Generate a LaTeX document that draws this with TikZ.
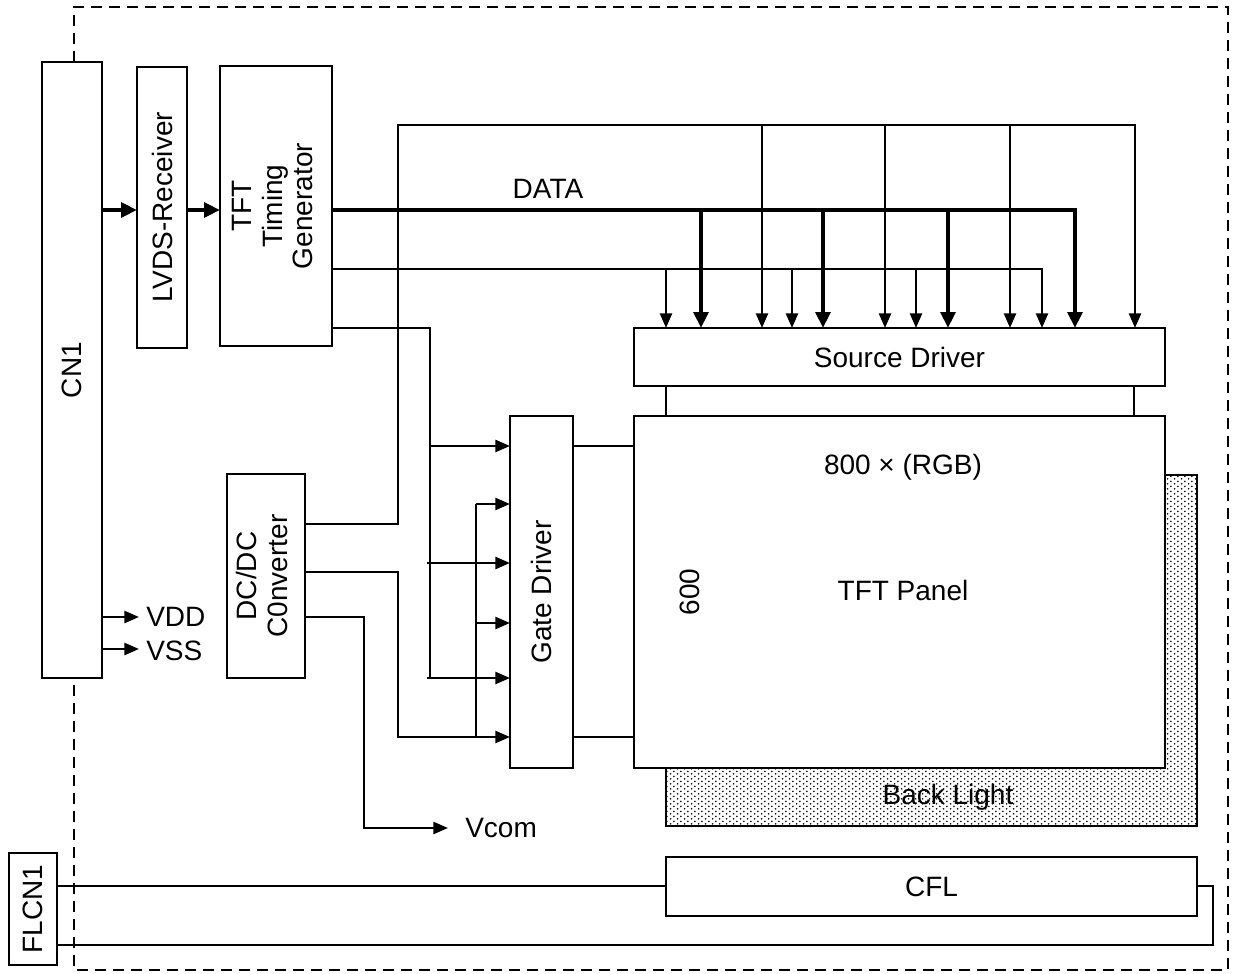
\documentclass[tikz,border=0pt]{standalone}
\usepackage{fontspec}
\setmainfont{Liberation Sans}
\usetikzlibrary{arrows.meta,patterns}
\pgfdeclarepatternformonly{bldots}{\pgfpointorigin}{\pgfpoint{5.4pt}{4pt}}{\pgfpoint{5.4pt}{4pt}}{%
  \pgfpathcircle{\pgfpoint{1.35pt}{1pt}}{0.75pt}%
  \pgfpathcircle{\pgfpoint{4.05pt}{3pt}}{0.75pt}%
  \pgfusepath{fill}%
}
\begin{document}
\begin{tikzpicture}[x=0.75pt,y=-0.75pt,
  font=\fontsize{21}{23}\selectfont,
  box/.style={draw,line width=1.9pt,fill=white,inner sep=0pt,outer sep=0pt},
  wire/.style={line width=1.9pt},
  bus/.style={line width=3.5pt},
  arr/.style={wire,-{Triangle[length=11pt,width=9pt]}},
  busarr/.style={bus,-{Triangle[length=12pt,width=11pt]}},
  lbl/.style={inner sep=0pt},
  border/.style={line width=2pt,dash pattern=on 8.5pt off 5pt}
]
\useasboundingbox (0,0) rectangle (1242,974);

% boxes
\node[box,minimum width=45pt,minimum height=462pt] (cn1) at (72,370) {\rotatebox{90}{CN1}};
\node[box,minimum width=37.5pt,minimum height=210.75pt] (lvds) at (162,207.5) {\rotatebox{90}{LVDS-Receiver}};
\node[box,minimum width=84pt,minimum height=210pt] (tft) at (276,206) {\rotatebox{90}{\begin{tabular}{@{}c@{}}TFT\\Timing\\Generator\end{tabular}}};
\node[box,minimum width=58.5pt,minimum height=153pt] (dcdc) at (266,576) {\rotatebox{90}{\begin{tabular}{@{}c@{}}DC/DC\\C0nverter\end{tabular}}};
\node[box,minimum width=47.25pt,minimum height=264pt] (gate) at (541.5,592) {\rotatebox{90}{Gate Driver}};
\node[box,pattern=bldots,pattern color=black,minimum width=398.25pt,minimum height=263.25pt] (bl) at (931.5,650.5) {};
\node[box,minimum width=398.25pt,minimum height=264pt] (panel) at (899.5,592) {};
\node[box,minimum width=398.25pt,minimum height=43.5pt] (src) at (899.5,357) {Source Driver};
\node[box,minimum width=398.25pt,minimum height=44.25pt] (cfl) at (931.5,886.5) {CFL};
\node[box,minimum width=36pt,minimum height=84pt] (flcn) at (33,909) {\rotatebox{90}{FLCN1}};

% labels
\node[lbl] (bltext) at (948,797) {Back Light};
\node[lbl] (res) at (903,467) {800 × (RGB)};
\node[lbl] (ptext) at (903,590) {TFT Panel};
\node[lbl,rotate=90] (rows) at (690,592) {600};
\node[lbl] (data) at (548,189) {DATA};
\node[lbl,anchor=west] (vdd) at (146,617) {VDD};
\node[lbl,anchor=west] (vss) at (146,651) {VSS};
\node[lbl,anchor=west] (vcom) at (465,828) {Vcom};
\coordinate (vcomtip) at (448,828);

% dashed module border
\draw[border] (cn1.north -| 74,0) -- (74,7) -- (1228,7) -- (1228,970) -- (74,970) -- (cn1.south -| 74,0);

% input chain
\draw[busarr] (cn1.east |- 0,210) -- (lvds.west |- 0,210);
\draw[busarr] (lvds.east |- 0,210) -- (tft.west |- 0,210);

% DATA bus
\draw[busarr] (tft.east |- 0,210) -- (1075,210) -- (src.north -| 1075,0);
\foreach \x in {701,823,948}
  \draw[busarr] (\x,210) -- (src.north -| \x,0);

% line y=269
\draw[arr] (tft.east |- 0,269) -- (1042,269) -- (src.north -| 1042,0);
\foreach \x in {666,792,916}
  \draw[arr] (\x,269) -- (src.north -| \x,0);

% power line from DC/DC up to top bus
\draw[arr] (dcdc.east |- 0,524) -- (398,524) -- (398,125) -- (1135,125) -- (src.north -| 1135,0);
\foreach \x in {762,885,1010}
  \draw[arr] (\x,125) -- (src.north -| \x,0);

% timing to gate driver
\draw[wire] (tft.east |- 0,328) -- (430,328) -- (430,678);
\draw[arr] (430,446) -- (gate.west |- 0,446);
\draw[arr] (427,563) -- (gate.west |- 0,563);
\draw[arr] (427,678) -- (gate.west |- 0,678);

% DC/DC to gate driver
\draw[arr] (dcdc.east |- 0,572) -- (398,572) -- (398,737) -- (gate.west |- 0,737);
\draw[wire] (476,737) -- (476,504);
\draw[arr] (476,504) -- (gate.west |- 0,504);
\draw[arr] (476,623) -- (gate.west |- 0,623);

% Vcom
\draw[arr] (dcdc.east |- 0,617) -- (364,617) -- (364,828) -- (vcomtip);

% VDD / VSS
\draw[arr] (cn1.east |- 0,617) -- (139,617);
\draw[arr] (cn1.east |- 0,649) -- (139,649);

% gate driver to panel
\draw[wire] (gate.east |- 0,446) -- (panel.west |- 0,446);
\draw[wire] (gate.east |- 0,737) -- (panel.west |- 0,737);

% source driver to panel
\draw[wire] (src.south -| 666,0) -- (panel.north -| 666,0);
\draw[wire] (src.south -| 1134,0) -- (panel.north -| 1134,0);

% FLCN1 to CFL
\draw[wire] (flcn.east |- 0,886) -- (cfl.west |- 0,886);
\draw[wire] (cfl.east |- 0,886) -- (1213,886) -- (1213,945) -- (flcn.east |- 0,945);
\end{tikzpicture}
\end{document}
